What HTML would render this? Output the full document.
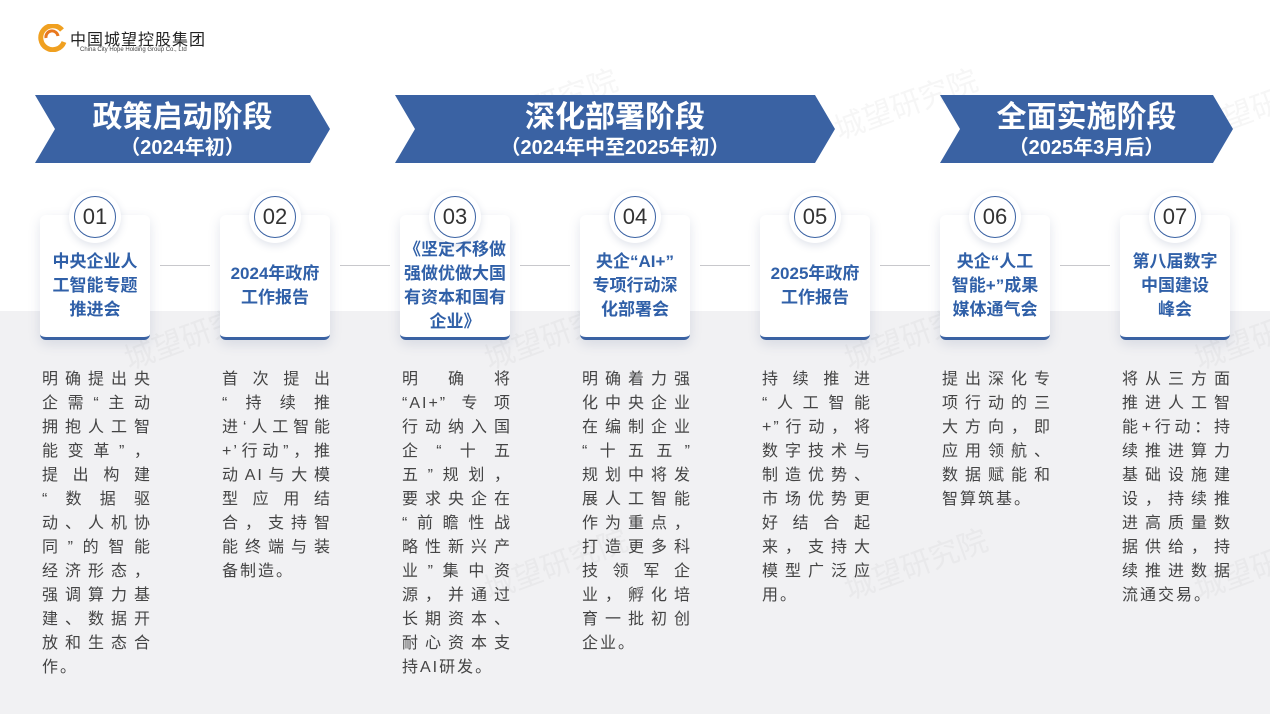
<!DOCTYPE html>
<html><head><meta charset="utf-8"><style>
*{margin:0;padding:0;box-sizing:border-box}
body{width:1270px;height:714px;position:relative;overflow:hidden;background:#fff;font-family:"Liberation Sans","Noto Sans CJK SC",sans-serif}
.band{position:absolute;left:0;top:311px;width:1270px;height:403px;background:#f1f1f3}
.wm{position:absolute;font-size:30px;color:rgba(150,150,160,0.09);transform:rotate(-20deg);white-space:nowrap}
.card{position:absolute;top:215px;width:110px;height:125px;background:#fff;border-radius:6px;box-shadow:0 4px 12px rgba(60,80,130,0.15);border-bottom:3px solid #3a62a3}
.ct{position:absolute;left:-4px;top:22px;width:118px;height:98px;display:flex;align-items:center;justify-content:center;text-align:center;color:#3060a8;font-weight:bold;font-size:17px;line-height:24px}
.circ{position:absolute;top:191px;width:52px;height:52px;border-radius:50%;background:#fff;box-shadow:0 3px 8px rgba(60,80,130,0.15)}
.circ div{position:absolute;left:5px;top:5px;width:42px;height:42px;border-radius:50%;border:1.5px solid #3a62a3;text-align:center;line-height:40px;font-size:22px;color:#333}
.ln{position:absolute;top:265px;height:1px;background:#c8c8cc;width:50px}
.bt{position:absolute;top:368px;width:110px;font-size:16px;line-height:24px;color:#444}
.bt div{text-align:justify;text-align-last:justify;letter-spacing:2px;height:24px}
.bt div.l{text-align-last:left}
.ph{position:absolute;color:#fff;text-align:center;font-weight:bold}
</style></head><body>
<div class="band"></div>
<div class="wm" style="left:470px;top:80px">城望研究院</div>
<div class="wm" style="left:830px;top:80px">城望研究院</div>
<div class="wm" style="left:1190px;top:80px">城望研究院</div>
<div class="wm" style="left:120px;top:310px">城望研究院</div>
<div class="wm" style="left:480px;top:310px">城望研究院</div>
<div class="wm" style="left:840px;top:310px">城望研究院</div>
<div class="wm" style="left:1190px;top:310px">城望研究院</div>
<div class="wm" style="left:480px;top:540px">城望研究院</div>
<div class="wm" style="left:840px;top:540px">城望研究院</div>
<div class="wm" style="left:1190px;top:540px">城望研究院</div>

<svg style="position:absolute;left:38px;top:24px" width="30" height="28" viewBox="0 0 30 28">
<path d="M24 6 A12 12 0 1 0 26 18" fill="none" stroke="#f0a020" stroke-width="5"/>
<path d="M8 14 A6 6 0 0 1 20 12" fill="none" stroke="#e8781e" stroke-width="3"/>
</svg>
<div style="position:absolute;left:70px;top:26px;font-size:16px;color:#222;letter-spacing:1px">中国城望控股集团</div>
<div style="position:absolute;left:80px;top:47px;font-size:6px;color:#444">China City Hope Holding Group Co., Ltd</div>

<svg style="position:absolute;left:0;top:0" width="1270" height="200">
<polygon points="35,95 310,95 330,129 310,163 35,163 55,129" fill="#3a62a3"/>
<polygon points="395,95 815,95 835,129 815,163 395,163 415,129" fill="#3a62a3"/>
<polygon points="940,95 1213,95 1233,129 1213,163 940,163 960,129" fill="#3a62a3"/>
</svg>
<div class="ph" style="left:55px;top:100px;width:255px"><div style="font-size:30px;line-height:36px">政策启动阶段</div><div style="font-size:20px;line-height:24px">（2024年初）</div></div>
<div class="ph" style="left:415px;top:100px;width:400px"><div style="font-size:30px;line-height:36px">深化部署阶段</div><div style="font-size:20px;line-height:24px">（2024年中至2025年初）</div></div>
<div class="ph" style="left:960px;top:100px;width:253px"><div style="font-size:30px;line-height:36px">全面实施阶段</div><div style="font-size:20px;line-height:24px">（2025年3月后）</div></div>

<div class="ln" style="left:160px"></div><div class="ln" style="left:340px"></div><div class="ln" style="left:520px"></div><div class="ln" style="left:700px"></div><div class="ln" style="left:880px"></div><div class="ln" style="left:1060px"></div>

<div class="card" style="left:40px"><div class="ct">中央企业人<br>工智能专题<br>推进会</div></div>
<div class="card" style="left:220px"><div class="ct">2024年政府<br>工作报告</div></div>
<div class="card" style="left:400px"><div class="ct">《坚定不移做<br>强做优做大国<br>有资本和国有<br>企业》</div></div>
<div class="card" style="left:580px"><div class="ct">央企“AI+”<br>专项行动深<br>化部署会</div></div>
<div class="card" style="left:760px"><div class="ct">2025年政府<br>工作报告</div></div>
<div class="card" style="left:940px"><div class="ct">央企“人工<br>智能+”成果<br>媒体通气会</div></div>
<div class="card" style="left:1120px"><div class="ct">第八届数字<br>中国建设<br>峰会</div></div>

<div class="circ" style="left:69px"><div>01</div></div>
<div class="circ" style="left:249px"><div>02</div></div>
<div class="circ" style="left:429px"><div>03</div></div>
<div class="circ" style="left:609px"><div>04</div></div>
<div class="circ" style="left:789px"><div>05</div></div>
<div class="circ" style="left:969px"><div>06</div></div>
<div class="circ" style="left:1149px"><div>07</div></div>

<div class="bt" style="left:42px"><div>明确提出央</div><div>企需“主动</div><div>拥抱人工智</div><div>能变革”，</div><div>提出构建</div><div>“数据驱</div><div>动、人机协</div><div>同”的智能</div><div>经济形态，</div><div>强调算力基</div><div>建、数据开</div><div>放和生态合</div><div class="l">作。</div></div>
<div class="bt" style="left:222px"><div>首次提出</div><div>“持续推</div><div>进‘人工智能</div><div>+’行动”，推</div><div>动AI与大模</div><div>型应用结</div><div>合，支持智</div><div>能终端与装</div><div class="l">备制造。</div></div>
<div class="bt" style="left:402px"><div>明确将</div><div>“AI+”专项</div><div>行动纳入国</div><div>企“十五</div><div>五”规划，</div><div>要求央企在</div><div>“前瞻性战</div><div>略性新兴产</div><div>业”集中资</div><div>源，并通过</div><div>长期资本、</div><div>耐心资本支</div><div class="l">持AI研发。</div></div>
<div class="bt" style="left:582px"><div>明确着力强</div><div>化中央企业</div><div>在编制企业</div><div>“十五五”</div><div>规划中将发</div><div>展人工智能</div><div>作为重点，</div><div>打造更多科</div><div>技领军企</div><div>业，孵化培</div><div>育一批初创</div><div class="l">企业。</div></div>
<div class="bt" style="left:762px"><div>持续推进</div><div>“人工智能</div><div>+”行动，将</div><div>数字技术与</div><div>制造优势、</div><div>市场优势更</div><div>好结合起</div><div>来，支持大</div><div>模型广泛应</div><div class="l">用。</div></div>
<div class="bt" style="left:942px"><div>提出深化专</div><div>项行动的三</div><div>大方向，即</div><div>应用领航、</div><div>数据赋能和</div><div class="l">智算筑基。</div></div>
<div class="bt" style="left:1122px"><div>将从三方面</div><div>推进人工智</div><div>能+行动：持</div><div>续推进算力</div><div>基础设施建</div><div>设，持续推</div><div>进高质量数</div><div>据供给，持</div><div>续推进数据</div><div class="l">流通交易。</div></div>
</body></html>
